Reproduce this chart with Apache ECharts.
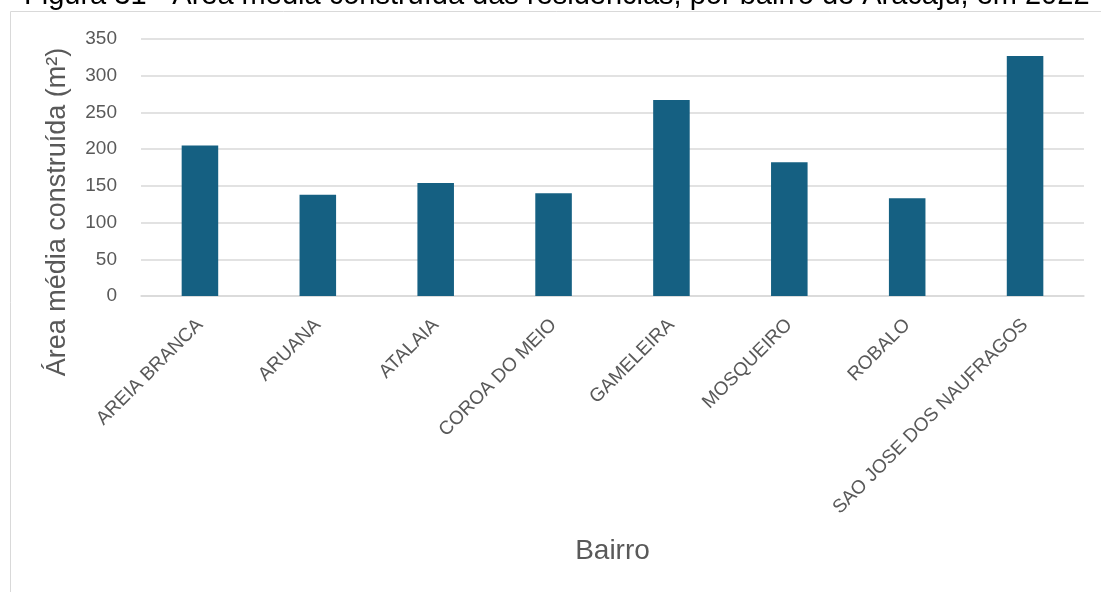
<!DOCTYPE html>
<html><head><meta charset="utf-8">
<script src="https://cdn.jsdelivr.net/npm/echarts@6/dist/echarts.min.js"></script>
<style>html,body{margin:0;padding:0;background:#fff}#c{width:1101px;height:592px}</style>
</head><body><div id="c"></div>
<script>
const categories = ['AREIA BRANCA','ARUANA','ATALAIA','COROA DO MEIO','GAMELEIRA','MOSQUEIRO','ROBALO','SAO JOSE DOS NAUFRAGOS'];
const values = [205, 138, 154, 140, 267, 182, 133, 327];
const titleText = 'Figura 31 - Área média construída das residências, por bairro de Aracaju, em 2022';
const yAxisName = 'Área média construída (m²)';
const xAxisName = 'Bairro';

const chart = echarts.init(document.getElementById('c'), null, {renderer:'canvas'});
const font = 'Liberation Sans, Arial, sans-serif';
chart.setOption({
  animation: false,
  graphic: [
    {type:'rect', shape:{x:10.5, y:11.5, width:1200, height:700}, style:{fill:'none', stroke:'#d9d9d9', lineWidth:1}, z:-1},
    {type:'text', x:24, y:-19, style:{text:titleText, font:'29px ' + font, fill:'#000', textVerticalAlign:'top'}},
    {type:'text', x:58, y:212, rotation:Math.PI/2, style:{text:yAxisName, font:'27px ' + font, fill:'#595959', textAlign:'center', textVerticalAlign:'middle'}}
  ],
  grid: {left:141, right:17, top:39, bottom:296, containLabel:false},
  xAxis: {
    type:'category', data:categories,
    name:xAxisName, nameLocation:'middle', nameGap:241,
    nameTextStyle:{fontFamily:font, fontSize:28, color:'#595959'},
    axisLine:{show:true, lineStyle:{color:'#d9d9d9', width:1.5}},
    axisTick:{show:false},
    axisLabel:{rotate:45, interval:0, fontFamily:font, fontSize:19, color:'#595959', margin:26}
  },
  yAxis: {
    type:'value', min:0, max:350, interval:50,
    axisLine:{show:false}, axisTick:{show:false},
    axisLabel:{fontFamily:font, fontSize:19, color:'#595959', margin:24},
    splitLine:{lineStyle:{color:'#d9d9d9', width:1.5}}
  },
  series: [{
    type:'bar', data:values, barWidth:'31%',
    itemStyle:{color:'#156082'}
  }]
});
</script></body></html>
